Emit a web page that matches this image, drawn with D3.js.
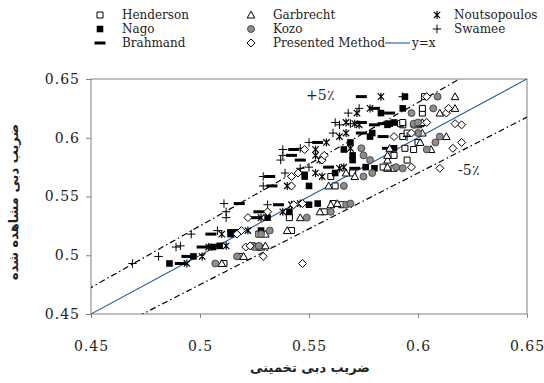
<!DOCTYPE html>
<html>
<head>
<meta charset="utf-8">
<script src="https://cdn.jsdelivr.net/npm/d3@7"></script>
<style>
  body { margin: 0; background: #fff; }
  svg { display: block; }
</style>
</head>
<body>
<div id="chart"></div>
<script>
// observed discharge coefficient (one entry per test), and each method's estimate for it
const observed   = [0.493, 0.499, 0.507, 0.508, 0.518, 0.521, 0.532, 0.537, 0.543, 0.544, 0.559, 0.567, 0.570, 0.574, 0.575, 0.581, 0.585, 0.590, 0.591, 0.596, 0.601, 0.604, 0.611, 0.612, 0.613, 0.621, 0.625, 0.635];
const henderson  = [0.511, 0.518, 0.527, 0.524, 0.527, 0.542, 0.541, 0.557, 0.565, 0.561, 0.562, 0.560, 0.570, 0.589, 0.584, 0.595, 0.589, 0.598, 0.594, 0.600, 0.593, 0.595, 0.593, 0.592, 0.593, 0.602, 0.602, 0.603];
const nago       = [0.486, 0.497, 0.506, 0.509, 0.514, 0.528, 0.531, 0.541, 0.550, 0.554, 0.550, 0.548, 0.562, 0.580, 0.576, 0.570, 0.570, 0.566, 0.589, 0.569, 0.578, 0.579, 0.586, 0.587, 0.589, 0.583, 0.593, 0.594];
const brahmand   = [0.491, 0.494, 0.501, 0.506, 0.505, 0.515, 0.525, 0.527, 0.536, 0.518, 0.533, 0.532, 0.547, 0.571, 0.559, 0.546, 0.542, 0.543, 0.586, 0.554, 0.584, 0.574, 0.580, 0.584, 0.574, 0.587, 0.580, 0.574];
const garbrecht  = [0.510, 0.520, 0.528, 0.530, 0.530, 0.540, 0.546, 0.555, 0.560, 0.563, 0.559, 0.571, 0.567, 0.586, 0.586, 0.586, 0.586, 0.606, 0.587, 0.601, 0.613, 0.602, 0.600, 0.601, 0.602, 0.610, 0.617, 0.617];
const kozo       = [0.507, 0.517, 0.525, 0.527, 0.528, 0.532, 0.549, 0.560, 0.567, 0.569, 0.566, 0.575, 0.579, 0.593, 0.590, 0.578, 0.575, 0.604, 0.574, 0.608, 0.610, 0.600, 0.598, 0.598, 0.600, 0.597, 0.607, 0.609];
const noutsopoulos = [0.494, 0.501, 0.504, 0.512, 0.510, 0.522, 0.528, 0.538, 0.542, 0.546, 0.540, 0.556, 0.553, 0.564, 0.566, 0.555, 0.553, 0.553, 0.569, 0.558, 0.564, 0.567, 0.573, 0.571, 0.567, 0.572, 0.578, 0.583];
const swamee     = [0.469, 0.481, 0.489, 0.491, 0.496, 0.508, 0.512, 0.512, 0.531, 0.511, 0.529, 0.529, 0.539, 0.546, 0.550, 0.537, 0.538, 0.538, 0.546, 0.550, 0.595, 0.561, 0.564, 0.569, 0.562, 0.568, 0.573, 0.593];
const presented  = [0.547, 0.529, 0.521, 0.523, 0.517, 0.519, 0.522, 0.531, 0.543, 0.547, 0.542, 0.542, 0.545, 0.610, 0.597, 0.556, 0.557, 0.548, 0.616, 0.620, 0.589, 0.597, 0.620, 0.617, 0.604, 0.613, 0.614, 0.604];

const seriesNames = ['Henderson', 'Nago', 'Brahmand', 'Garbrecht', 'Kozo', 'Noutsopoulos', 'Swamee', 'Presented Method'];
const seriesValues = [henderson, nago, brahmand, garbrecht, kozo, noutsopoulos, swamee, presented];
const axisTicks = [0.45, 0.5, 0.55, 0.6, 0.65];
const bandLabels = ['+5٪', '-5٪'];
const xTitle = 'ضریب دبی تخمینی';
const yTitle = 'ضریب دبی مشاهده شده';

const width = 544, height = 383;
const svg = d3.select('#chart').append('svg')
  .attr('width', width)
  .attr('height', height);

const x = d3.scaleLinear().domain([0.45, 0.65]).range([91, 527]);
const y = d3.scaleLinear().domain([0.45, 0.65]).range([314, 79]);

const serif = '"DejaVu Serif", "Liberation Serif", serif';
const frameColor = '#808080';

// marker shapes, centred on 0,0
const markers = {
  'Henderson':        { d: 'M-3,-3h6v6h-6z', fill: '#fff', stroke: '#000', sw: 1 },
  'Nago':             { d: 'M-3.3,-3.3h6.6v6.6h-6.6z', fill: '#000', stroke: 'none', sw: 0 },
  'Brahmand':         { d: 'M-5.5,-1.5h11v3h-11z', fill: '#000', stroke: 'none', sw: 0 },
  'Garbrecht':        { d: 'M0,-3.8L3.8,3H-3.8Z', fill: '#fff', stroke: '#000', sw: 1 },
  'Kozo':             { d: 'M-3.5,0a3.5,3.5 0 1,0 7,0a3.5,3.5 0 1,0 -7,0', fill: '#8c8c8c', stroke: '#333', sw: 0.8 },
  'Noutsopoulos':     { d: 'M-3.2,-3.2L3.2,3.2M-3.2,3.2L3.2,-3.2M0,-4V4', fill: 'none', stroke: '#000', sw: 1.2 },
  'Swamee':           { d: 'M-4.2,0H4.2M0,-4.2V4.2', fill: 'none', stroke: '#000', sw: 1 },
  'Presented Method': { d: 'M0,-4L4,0L0,4L-4,0Z', fill: '#fff', stroke: '#000', sw: 1 }
};

// clip for lines
svg.append('clipPath').attr('id', 'plot-clip')
  .append('rect')
  .attr('x', x(0.45)).attr('y', y(0.65))
  .attr('width', x(0.65) - x(0.45)).attr('height', y(0.45) - y(0.65));

// axes
const yAxis = d3.axisLeft(y).tickValues(axisTicks).tickSize(5).tickPadding(6).tickFormat(d => String(d));
const xAxis = d3.axisBottom(x).tickValues(axisTicks).tickSize(4).tickPadding(23).tickFormat(d => String(d));

const gy = svg.append('g').attr('transform', `translate(${x(0.45)},0)`).call(yAxis);
const gx = svg.append('g').attr('transform', `translate(0,${y(0.45)})`).call(xAxis);
[gx, gy].forEach(g => {
  g.select('.domain').remove();
  g.selectAll('.tick line').attr('stroke', frameColor);
  g.selectAll('.tick text')
    .attr('fill', '#222')
    .style('font-family', serif)
    .style('font-size', '14px')
    .style('letter-spacing', '1px');
});

// frame
svg.append('rect')
  .attr('x', x(0.45)).attr('y', y(0.65))
  .attr('width', x(0.65) - x(0.45)).attr('height', y(0.45) - y(0.65))
  .attr('fill', 'none').attr('stroke', frameColor).attr('stroke-width', 1);

// reference lines: y = x and +/-5 %
const lineGen = d3.line().x(d => x(d[0])).y(d => y(d[1]));
const refLines = [
  { k: 1.00, color: '#1f5a9e', dash: null, w: 1.1 },
  { k: 1.05, color: '#000', dash: '6,3,1.5,3', w: 1.2 },
  { k: 0.95, color: '#000', dash: '6,3,1.5,3', w: 1.2 }
];
const lineG = svg.append('g').attr('clip-path', 'url(#plot-clip)');
refLines.forEach(r => {
  lineG.append('path')
    .attr('d', lineGen([[0.40, 0.40 * r.k], [0.70, 0.70 * r.k]]))
    .attr('fill', 'none')
    .attr('stroke', r.color)
    .attr('stroke-width', r.w)
    .attr('stroke-dasharray', r.dash);
});

// band labels
svg.append('text').attr('x', 306).attr('y', 100)
  .style('font-family', serif).style('font-size', '14px').attr('fill', '#222')
  .text(bandLabels[0]);
svg.append('text').attr('x', 458).attr('y', 175)
  .style('font-family', serif).style('font-size', '14px').attr('fill', '#222')
  .text(bandLabels[1]);

// points
const pointsG = svg.append('g');
seriesNames.forEach((name, i) => {
  const m = markers[name];
  pointsG.append('g').selectAll('path')
    .data(seriesValues[i].map((v, j) => [v, observed[j]]))
    .enter().append('path')
    .attr('transform', d => `translate(${x(d[0])},${y(d[1])})`)
    .attr('d', m.d)
    .attr('fill', m.fill)
    .attr('stroke', m.stroke)
    .attr('stroke-width', m.sw);
});

// legend (3 columns)
const legendCols = [100, 251, 437];
const legendRows = [15, 29, 43];
const legendSlots = [[0, 0], [0, 1], [0, 2], [1, 0], [1, 1], [2, 0], [2, 1], [1, 2]];
const legend = svg.append('g');
seriesNames.forEach((name, i) => {
  const [c, r] = legendSlots[i];
  const m = markers[name];
  legend.append('path')
    .attr('transform', `translate(${legendCols[c]},${legendRows[r]})`)
    .attr('d', m.d)
    .attr('fill', m.fill)
    .attr('stroke', m.stroke)
    .attr('stroke-width', m.sw);
  legend.append('text')
    .attr('x', legendCols[c] + (c === 2 ? 17 : 22)).attr('y', legendRows[r] + 4)
    .style('font-family', serif).style('font-size', '12px').attr('fill', '#222')
    .text(name);
});
legend.append('line')
  .attr('x1', 385).attr('x2', 410).attr('y1', legendRows[2]).attr('y2', legendRows[2])
  .attr('stroke', '#1f5a9e').attr('stroke-width', 1.1);
legend.append('text')
  .attr('x', 412).attr('y', legendRows[2] + 4)
  .style('font-family', serif).style('font-size', '12px').attr('fill', '#222')
  .text('y=x');

// axis titles
svg.append('text')
  .attr('x', 310).attr('y', 372)
  .attr('text-anchor', 'middle')
  .style('font-family', '"DejaVu Sans", sans-serif').style('font-size', '13px').style('font-weight', 'bold')
  .attr('fill', '#222')
  .text(xTitle);
svg.append('text')
  .attr('transform', 'translate(18,202) rotate(-90)')
  .attr('text-anchor', 'middle')
  .style('font-family', '"DejaVu Sans", sans-serif').style('font-size', '13px').style('font-weight', 'bold')
  .attr('fill', '#222')
  .text(yTitle);
</script>
</body>
</html>
